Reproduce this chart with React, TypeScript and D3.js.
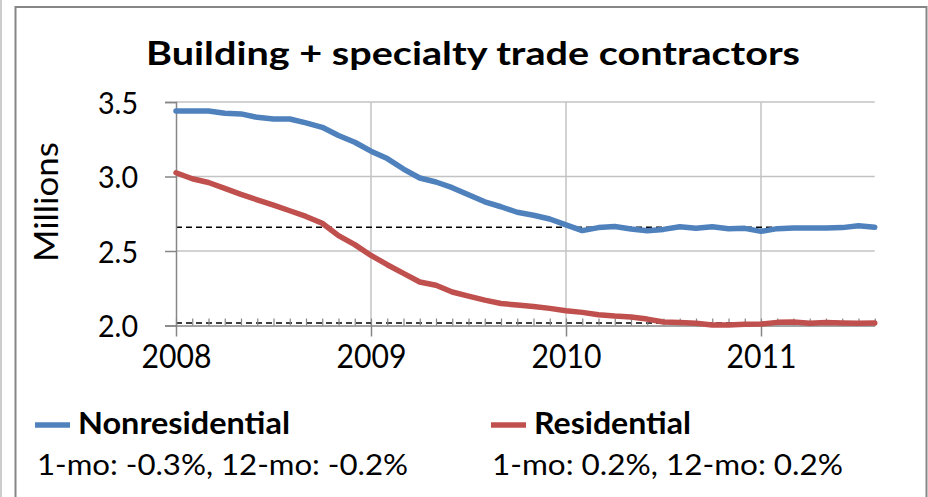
import React, { useEffect, useRef } from 'react';
import * as d3 from 'd3';

// monthly values, Jan 2008 .. Aug 2011 (millions)
const nonresidential = [
  3.44, 3.44, 3.44, 3.425, 3.42, 3.397, 3.386, 3.386, 3.36, 3.33, 3.275, 3.23,
  3.17, 3.12, 3.05, 2.99, 2.963, 2.925, 2.877, 2.83, 2.797, 2.76, 2.74, 2.715,
  2.675, 2.637, 2.657, 2.665, 2.648, 2.636, 2.645, 2.663, 2.652, 2.663, 2.65, 2.652,
  2.632, 2.65, 2.655, 2.655, 2.655, 2.657, 2.67, 2.66
];
const residential = [
  3.025, 2.985, 2.96, 2.92, 2.88, 2.843, 2.808, 2.77, 2.732, 2.686, 2.603, 2.543,
  2.47, 2.408, 2.35, 2.292, 2.27, 2.225, 2.197, 2.17, 2.148, 2.137, 2.128, 2.115,
  2.099, 2.088, 2.072, 2.063, 2.057, 2.043, 2.023, 2.02, 2.015, 2.003, 2.003, 2.008,
  2.01, 2.021, 2.023, 2.015, 2.02, 2.017, 2.015, 2.017
];
const years = ['2008', '2009', '2010', '2011'];
const yTicks = [2.0, 2.5, 3.0, 3.5];
const seriesNames = ['Nonresidential', 'Residential'];
const changes = ['1-mo: -0.3%, 12-mo: -0.2%', '1-mo: 0.2%, 12-mo: 0.2%'];
const title = 'Building + specialty trade contractors';

const BLUE = '#4F81BD';
const RED = '#C0504D';
const AXIS = '#868686';
const GRID = '#c3c3c3';
const FONT = 'Lato, "Open Sans", sans-serif';

export default function App() {
  const svgRef = useRef<SVGSVGElement>(null);

  useEffect(() => {
    const svg = d3.select(svgRef.current);
    svg.selectAll('*').remove();

    const n = nonresidential.length;
    const x = d3.scaleLinear().domain([0, n - 1]).range([176, 176 + (n - 1) * 16.25]);
    const y = d3.scaleLinear().domain([2.0, 3.5]).range([325.5, 102]);
    const [x0, x1] = x.range();

    // outer frame
    svg.append('rect')
      .attr('x', 15.5).attr('y', 7).attr('width', 911).attr('height', 500)
      .attr('fill', 'none').attr('stroke', AXIS).attr('stroke-width', 2);
    svg.append('line')
      .attr('x1', 1).attr('x2', 1).attr('y1', 0).attr('y2', 497)
      .attr('stroke', '#bbbbbb').attr('stroke-width', 1.5);

    // gridlines
    svg.append('g').selectAll('line')
      .data(yTicks.filter(d => d > 2.0))
      .enter().append('line')
      .attr('x1', x0).attr('x2', x1)
      .attr('y1', d => y(d)).attr('y2', d => y(d))
      .attr('stroke', GRID).attr('stroke-width', 1.5);
    svg.append('g').selectAll('line')
      .data(years.slice(1))
      .enter().append('line')
      .attr('x1', (d, i) => x((i + 1) * 12)).attr('x2', (d, i) => x((i + 1) * 12))
      .attr('y1', y(3.5)).attr('y2', y(2.0))
      .attr('stroke', GRID).attr('stroke-width', 1.5);

    // dashed reference lines at the latest values
    svg.append('g').selectAll('line')
      .data([nonresidential[n - 1], residential[n - 1]])
      .enter().append('line')
      .attr('x1', x0).attr('x2', x1)
      .attr('y1', d => y(d)).attr('y2', d => y(d))
      .attr('stroke', '#000').attr('stroke-width', 1.5)
      .attr('stroke-dasharray', '6,4');

    // y axis
    const yAxis = svg.append('g')
      .attr('transform', `translate(${x0},0)`)
      .call(d3.axisLeft(y).tickValues(yTicks).tickFormat(d3.format('.1f')).tickSize(11));
    yAxis.select('.domain').attr('stroke', AXIS).attr('stroke-width', 1.5);
    yAxis.selectAll('.tick line').attr('stroke', AXIS).attr('stroke-width', 1.5);
    yAxis.selectAll('.tick text')
      .attr('x', -38)
      .attr('dy', '0.36em')
      .attr('textLength', 40).attr('lengthAdjust', 'spacingAndGlyphs')
      .attr('fill', '#000')
      .style('font-family', FONT).style('font-size', '31px');

    // x axis: monthly minor ticks pointing up, yearly major ticks below
    const minor = svg.append('g')
      .attr('transform', `translate(0,${y(2.0)})`)
      .call(d3.axisBottom(x).tickValues(d3.range(0, n)).tickSize(-7).tickSizeOuter(0).tickFormat(() => ''));
    minor.select('.domain').attr('stroke', AXIS).attr('stroke-width', 1.5);
    minor.selectAll('.tick line').attr('stroke', AXIS).attr('stroke-width', 1.2);

    const major = svg.append('g')
      .attr('transform', `translate(0,${y(2.0)})`)
      .call(d3.axisBottom(x).tickValues(years.map((d, i) => i * 12)).tickSize(11).tickSizeOuter(0)
        .tickFormat((d, i) => years[i]).tickPadding(9));
    major.select('.domain').remove();
    major.selectAll('.tick line').attr('stroke', AXIS).attr('stroke-width', 1.5);
    major.selectAll('.tick text')
      .attr('textLength', 70).attr('lengthAdjust', 'spacingAndGlyphs')
      .attr('fill', '#000')
      .style('font-family', FONT).style('font-size', '32px');

    // series lines
    const line = d3.line<number>().x((d, i) => x(i)).y(d => y(d));
    [nonresidential, residential].forEach((s, k) => {
      svg.append('path')
        .datum(s)
        .attr('d', line)
        .attr('fill', 'none')
        .attr('stroke', k === 0 ? BLUE : RED)
        .attr('stroke-width', 5.5)
        .attr('stroke-linejoin', 'round')
        .attr('stroke-linecap', 'round');
    });

    // y label
    svg.append('text')
      .attr('transform', 'translate(58,202) rotate(-90)')
      .attr('text-anchor', 'middle')
      .attr('textLength', 120).attr('lengthAdjust', 'spacingAndGlyphs')
      .style('font-family', FONT).style('font-size', '33px')
      .text('Millions');

    // title
    svg.append('text')
      .attr('x', 146).attr('y', 65)
      .attr('textLength', 654).attr('lengthAdjust', 'spacingAndGlyphs')
      .style('font-family', FONT).style('font-size', '33px').style('font-weight', 'bold')
      .text(title);

    // legend
    const legend = [
      { sx: 35, tx: 78, tw: 212, cx: 37, cw: 371, color: BLUE },
      { sx: 491, tx: 534, tw: 157, cx: 492, cw: 351, color: RED }
    ];
    legend.forEach((l, k) => {
      svg.append('line')
        .attr('x1', l.sx).attr('x2', l.sx + 35)
        .attr('y1', 425).attr('y2', 425)
        .attr('stroke', l.color).attr('stroke-width', 5.5);
      svg.append('text')
        .attr('x', l.tx).attr('y', 434)
        .attr('textLength', l.tw).attr('lengthAdjust', 'spacingAndGlyphs')
        .style('font-family', FONT).style('font-size', '30px').style('font-weight', 'bold')
        .text(seriesNames[k]);
      svg.append('text')
        .attr('x', l.cx).attr('y', 475)
        .attr('textLength', l.cw).attr('lengthAdjust', 'spacingAndGlyphs')
        .style('font-family', FONT).style('font-size', '28px')
        .text(changes[k]);
    });
  }, []);

  return (
    <svg ref={svgRef} width={928} height={497}
      style={{ position: 'absolute', left: 0, top: 0, background: '#fff' }} />
  );
}
